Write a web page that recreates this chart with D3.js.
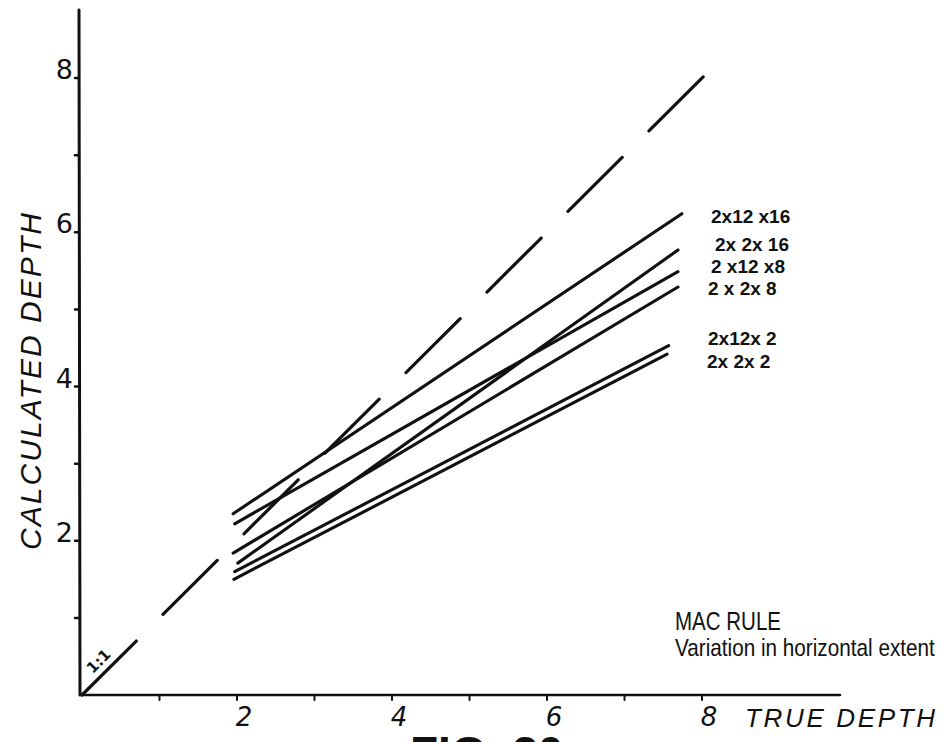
<!DOCTYPE html>
<html>
<head>
<meta charset="utf-8">
<script src="https://cdn.jsdelivr.net/npm/d3@7"></script>
<style>
  html, body { margin: 0; padding: 0; background: #fff; }
  svg { display: block; }
</style>
</head>
<body>
<svg id="chart" width="947" height="742"></svg>
<script>
// Series: model size (2 x width x length) against true vs calculated depth
const seriesNames = ["2x12 x16", "2x 2x 16", "2 x12 x8", "2 x 2x 8", "2x12x 2", "2x 2x 2"];
const startTrue = [1.95, 2.01, 1.97, 1.95, 1.97, 1.96];
const startCalc = [2.35, 1.71, 2.22, 1.84, 1.60, 1.50];
const endTrue   = [7.74, 7.69, 7.69, 7.69, 7.57, 7.55];
const endCalc   = [6.24, 5.77, 5.49, 5.29, 4.53, 4.42];

// 1:1 reference line extent
const oneToOne = [0, 8.15];

// Axis ticks
const tickValues = [0, 1, 2, 3, 4, 5, 6, 7, 8];
const tickLabels = ["2", "4", "6", "8"];

const title1 = "MAC RULE";
const title2 = "Variation in horizontal extent";

const svg = d3.select("#chart");
const ink = "#111";

const x = d3.scaleLinear().domain([0, 8]).range([82, 702]);
const y = d3.scaleLinear().domain([0, 8]).range([695, 78]);

// Axes
const axes = svg.append("g").attr("stroke", ink).attr("stroke-width", 3).attr("stroke-linecap", "round");
axes.append("line").attr("x1", x(0)).attr("y1", y(0)).attr("x2", x(9.78)).attr("y2", y(0)).attr("stroke-width", 2.6);
axes.append("line").attr("x1", x(0) - 2).attr("y1", y(0)).attr("x2", x(0) - 3).attr("y2", 10);

// Tick nubs
axes.selectAll(".xt").data(tickValues.slice(1)).join("line")
  .attr("x1", d => x(d)).attr("x2", d => x(d))
  .attr("y1", y(0)).attr("y2", y(0) + 5).attr("stroke-width", 2);
axes.selectAll(".yt").data(tickValues.slice(1)).join("line")
  .attr("x1", x(0) - 3).attr("x2", x(0) - 7)
  .attr("y1", d => y(d)).attr("y2", d => y(d)).attr("stroke-width", 2.5);

// Tick labels
svg.selectAll(".xl").data(tickLabels).join("text")
  .attr("x", d => x(+d) + 7).attr("y", y(0) + 31)
  .attr("text-anchor", "middle")
  .attr("font-family", "DejaVu Sans, sans-serif").attr("font-style", "italic")
  .attr("font-size", 26).attr("fill", ink)
  .text(d => d);

svg.selectAll(".yl").data(tickLabels).join("text")
  .attr("x", x(0) - 9).attr("y", d => y(+d) + 1)
  .attr("text-anchor", "end")
  .attr("font-family", "DejaVu Sans, sans-serif")
  .attr("font-size", 27).attr("fill", ink)
  .text(d => d);

// Axis titles
svg.append("text")
  .attr("transform", `translate(41,${(213 + 550) / 2}) rotate(-90)`)
  .attr("text-anchor", "middle")
  .attr("font-family", "Liberation Sans, Arial, sans-serif").attr("font-style", "italic")
  .attr("font-size", 30).attr("fill", ink)
  .attr("textLength", 337).attr("lengthAdjust", "spacing")
  .text("CALCULATED DEPTH");

svg.append("text")
  .attr("x", 745).attr("y", 727)
  .attr("font-family", "Liberation Sans, Arial, sans-serif").attr("font-style", "italic")
  .attr("font-size", 26).attr("fill", ink)
  .attr("textLength", 190).attr("lengthAdjust", "spacing")
  .text("TRUE DEPTH");

// 1:1 dashed reference
const unitLen = Math.hypot(x(1) - x(0), y(0) - y(1));
svg.append("line")
  .attr("x1", x(oneToOne[0])).attr("y1", y(oneToOne[0]))
  .attr("x2", x(oneToOne[1])).attr("y2", y(oneToOne[1]))
  .attr("stroke", ink).attr("stroke-width", 3.2).attr("stroke-linecap", "round")
  .attr("stroke-dasharray", `${0.7 * unitLen} ${0.345 * unitLen}`);

svg.append("text")
  .attr("transform", `translate(${x(0.3) - 3},${y(0.3) - 7}) rotate(-45)`)
  .attr("text-anchor", "middle")
  .attr("font-family", "DejaVu Sans, sans-serif").attr("font-weight", "bold")
  .attr("font-size", 15).attr("fill", ink)
  .text("1:1");

// Series lines
const lines = seriesNames.map((name, i) => ({
  name,
  pts: [[startTrue[i], startCalc[i]], [endTrue[i], endCalc[i]]]
}));
const lineGen = d3.line().x(d => x(d[0])).y(d => y(d[1]));
svg.append("g").selectAll("path").data(lines).join("path")
  .attr("d", d => lineGen(d.pts))
  .attr("fill", "none").attr("stroke", ink)
  .attr("stroke-width", 3.1).attr("stroke-linecap", "round");

// Series labels beside line ends
const labelDx = [2, 6, 2, -1, -1, -2];
const labelDy = [2, -6, -6, 1, -8, 7];
svg.append("g").selectAll("text").data(lines).join("text")
  .attr("x", (d, i) => 709 + labelDx[i])
  .attr("y", (d, i) => y(endCalc[i]) + labelDy[i] + 7)
  .attr("font-family", "Liberation Sans, Arial, sans-serif").attr("font-weight", "bold")
  .attr("font-size", 19).attr("fill", ink)
  .text(d => d.name);

// Title block: condensed lettering, squeezed horizontally to its set width
function condensedText(str, left, base, size, width) {
  const g = svg.append("g");
  const t = g.append("text")
    .attr("x", 0).attr("y", 0)
    .attr("font-family", "Liberation Sans, Arial, sans-serif")
    .attr("font-size", size).attr("fill", ink)
    .text(str);
  const natural = t.node().getComputedTextLength();
  g.attr("transform", `translate(${left},${base}) scale(${width / natural},1)`);
}
condensedText(title1, 675, 630, 25, 106);
condensedText(title2, 675, 656, 24, 260);

// Figure caption (runs off the bottom edge of the page)
svg.append("text")
  .attr("x", 410).attr("y", 769)
  .attr("font-family", "Liberation Sans, Arial, sans-serif").attr("font-weight", "bold")
  .attr("font-size", 46).attr("fill", ink)
  .text("FIG. 20");
</script>
</body>
</html>
